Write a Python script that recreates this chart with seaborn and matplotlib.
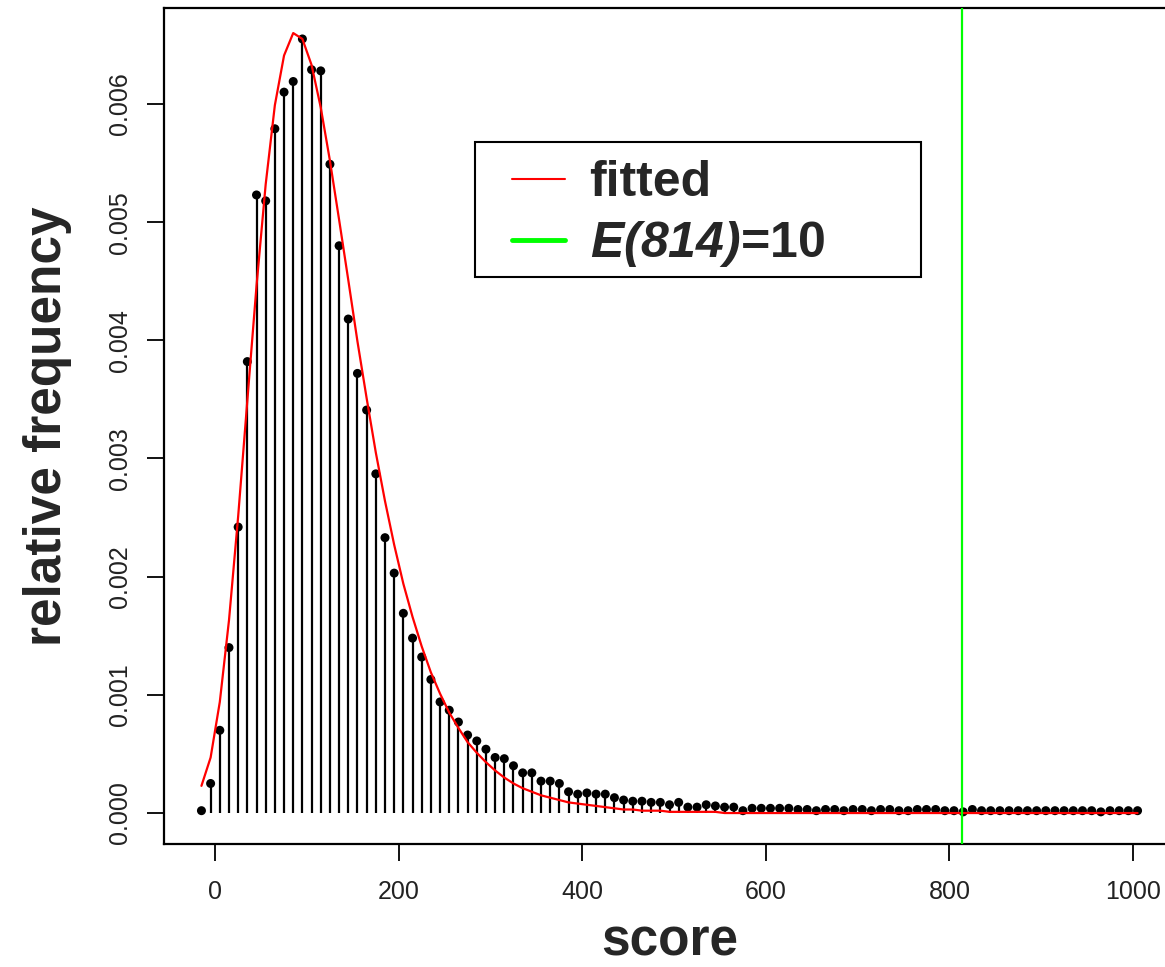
import numpy as np
import pandas as pd
import seaborn as sns
import matplotlib.pyplot as plt
from matplotlib.lines import Line2D
from matplotlib.patches import Rectangle

# bin centres of the score histogram
score = np.arange(-15, 1006, 10)

rel_freq = [
    0.00002, 0.00025, 0.00070, 0.00140, 0.00242, 0.00382, 0.00523, 0.00518,
    0.00579, 0.00610, 0.00619, 0.00655, 0.00629, 0.00628, 0.00549, 0.00480,
    0.00418, 0.00372, 0.00341, 0.00287, 0.00233, 0.00203, 0.00169, 0.00148,
    0.00132, 0.00113, 0.00094, 0.00087, 0.00077, 0.00066, 0.00061, 0.00054,
    0.00047, 0.00046, 0.00040, 0.00034, 0.00034, 0.00027, 0.00027, 0.00025,
    0.00018, 0.00016, 0.00017, 0.00016, 0.00016, 0.00013, 0.00011, 0.00010,
    0.00010, 0.00009, 0.00009, 0.00007, 0.00009, 0.00005, 0.00005, 0.00007,
    0.00006, 0.00005, 0.00005, 0.00002, 0.00004, 0.00004, 0.00004, 0.00004,
    0.00004, 0.00003, 0.00003, 0.00002, 0.00003, 0.00003, 0.00002, 0.00003,
    0.00003, 0.00002, 0.00003, 0.00003, 0.00002, 0.00002, 0.00003, 0.00003,
    0.00003, 0.00002, 0.00002, 0.00001, 0.00003, 0.00002, 0.00002, 0.00002,
    0.00002, 0.00002, 0.00002, 0.00002, 0.00002, 0.00002, 0.00002, 0.00002,
    0.00002, 0.00002, 0.00001, 0.00002, 0.00002, 0.00002, 0.00002,
]

# fitted curve (red), read at the same scores
fitted = [
    0.00023, 0.00047, 0.00094, 0.00163, 0.00251, 0.00349, 0.00446, 0.00532,
    0.00599, 0.00641, 0.00660, 0.00655, 0.00633, 0.00597, 0.00552, 0.00502,
    0.00451, 0.00399, 0.00351, 0.00305, 0.00264, 0.00227, 0.00194, 0.00166,
    0.00141, 0.00119, 0.00101, 0.00085, 0.00072, 0.00060, 0.00051, 0.00043,
    0.00036, 0.00030, 0.00025, 0.00021, 0.00018, 0.00015, 0.00013, 0.00011,
    0.00009, 0.00008, 0.00007, 0.00006, 0.00005, 0.00004, 0.00003, 0.00003,
    0.00002, 0.00002, 0.00002, 0.00001, 0.00001, 0.00001, 0.00001, 0.00001,
    0.00001, 0.0, 0.0, 0.0, 0.0, 0.0, 0.0, 0.0,
    0.0, 0.0, 0.0, 0.0, 0.0, 0.0, 0.0, 0.0,
    0.0, 0.0, 0.0, 0.0, 0.0, 0.0, 0.0, 0.0,
    0.0, 0.0, 0.0, 0.0, 0.0, 0.0, 0.0, 0.0,
    0.0, 0.0, 0.0, 0.0, 0.0, 0.0, 0.0, 0.0,
    0.0, 0.0, 0.0, 0.0, 0.0, 0.0, 0.0,
]

e_score = 814
x_ticks = [0, 200, 400, 600, 800, 1000]
y_ticks = [0.000, 0.001, 0.002, 0.003, 0.004, 0.005, 0.006]
y_tick_labels = ["0.000", "0.001", "0.002", "0.003", "0.004", "0.005", "0.006"]

df = pd.DataFrame({"score": score, "freq": rel_freq, "fitted": fitted})

sns.set_theme(style="ticks")
plt.rcParams["font.family"] = ["Liberation Sans", "DejaVu Sans"]
# math part of the legend label: bold italic everywhere (letters, digits, parens)
plt.rcParams["mathtext.fontset"] = "custom"
plt.rcParams["mathtext.it"] = "Liberation Sans:italic:bold"
plt.rcParams["mathtext.rm"] = "Liberation Sans:italic:bold"

fig = plt.figure(figsize=(11.65, 9.67), dpi=100)
ax = fig.add_axes([164 / 1165, 1 - 844 / 967, (1175 - 164) / 1165, (844 - 8) / 967])

# stems + dots
ax.vlines(df["score"], 0, df["freq"], color="black", lw=1.6, zorder=2)
sns.scatterplot(data=df, x="score", y="freq", color="black", s=42,
                edgecolor="none", ax=ax, zorder=3)
sns.lineplot(data=df, x="score", y="fitted", color="red", lw=1.6, ax=ax, zorder=4)
ax.axvline(e_score, color="#00ff00", lw=1.6, zorder=5)

ax.set_xlim(-55.8, 1045.8)
ax.set_ylim(-0.000262, 0.006812)
ax.set_xticks(x_ticks)
ax.set_xticklabels([str(t) for t in x_ticks])
ax.set_yticks(y_ticks)
ax.set_yticklabels(y_tick_labels, rotation=90, va="center")
ax.tick_params(axis="both", length=12, width=1.3, labelsize=18,
               color="black", labelcolor="#222222", direction="out")
ax.tick_params(axis="x", pad=14)
ax.tick_params(axis="y", pad=11)

for sp in ax.spines.values():
    sp.set_visible(True)
    sp.set_color("black")
    sp.set_linewidth(1.6)

ax.set_xlabel("score", fontsize=37, fontweight="bold", labelpad=10)
ax.set_ylabel("relative frequency", fontsize=37, fontweight="bold", labelpad=26)

# legend: entries without frame, box drawn separately (R-style wide box)
handles = [Line2D([0], [0], color="red", lw=1.5),
           Line2D([0], [0], color="#00ff00", lw=3.5)]
labels = ["fitted", r"$E(814)$=10"]
leg = ax.legend(handles, labels, loc="upper left",
                bbox_to_anchor=(512 / 1165, 1 - 160 / 967),
                bbox_transform=fig.transFigure,
                prop={"size": 36, "weight": "bold"},
                frameon=False, borderpad=0, labelspacing=0.26,
                handlelength=1.05, handletextpad=0.5, borderaxespad=0)
fig.add_artist(Rectangle((475 / 1165, 1 - 277 / 967), (921 - 475) / 1165,
                         (277 - 142) / 967, transform=fig.transFigure,
                         fill=True, facecolor="white", edgecolor="black",
                         lw=1.5, zorder=6))
leg.set_zorder(7)
fig.add_artist(leg)

fig.savefig("out.png", dpi=100)
